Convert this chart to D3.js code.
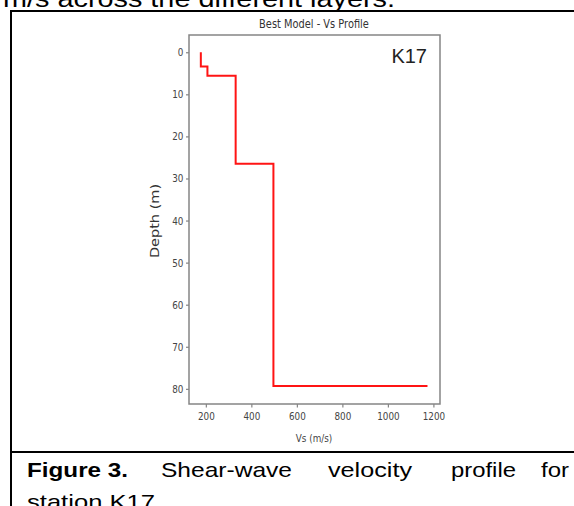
<!DOCTYPE html>
<html>
<head>
<meta charset="utf-8">
<script src="https://cdn.jsdelivr.net/npm/d3@7"></script>
<style>
  body { margin: 0; background: #fff; }
  svg { display: block; }
</style>
</head>
<body>
<div id="fig"></div>
<script>
// data: step profile (Vs in m/s, depth in m)
var vsValues = [178, 178, 207, 207, 331, 331, 497, 497, 1174];
var depthValues = [0, 3.4, 3.4, 5.6, 5.6, 26.5, 26.5, 79.3, 79.3];
var xTicks = [200, 400, 600, 800, 1000, 1200];
var yTicks = [0, 10, 20, 30, 40, 50, 60, 70, 80];

var W = 574, H = 506;
var svg = d3.select("#fig").append("svg")
    .attr("width", W)
    .attr("height", H);

// the chart image sits squeezed sideways inside the document
var squeeze = 0.8;

// page frame
svg.append("text")
    .attr("x", 3).attr("y", 7)
    .attr("textLength", 392)
    .attr("lengthAdjust", "spacingAndGlyphs")
    .style("font-family", "Liberation Sans, Arial")
    .style("font-size", "23px")
    .text("m/s across the different layers.");

svg.append("line").attr("x1", 10).attr("x2", W).attr("y1", 11).attr("y2", 11)
    .attr("stroke", "#000").attr("stroke-width", 2);
svg.append("line").attr("x1", 11).attr("x2", 11).attr("y1", 10).attr("y2", H)
    .attr("stroke", "#000").attr("stroke-width", 2);
svg.append("line").attr("x1", 10).attr("x2", W).attr("y1", 452).attr("y2", 452)
    .attr("stroke", "#000").attr("stroke-width", 2);

// caption, justified by hand
var capWords = [
  {t: "Figure 3.", x: 27, len: 101, bold: true},
  {t: "Shear-wave", x: 161, len: 131},
  {t: "velocity", x: 328, len: 84},
  {t: "profile", x: 451, len: 65},
  {t: "for", x: 541, len: 28}
];
var cap = svg.append("g")
    .style("font-family", "Liberation Sans, Arial")
    .style("font-size", "21px");
cap.selectAll("text.w").data(capWords).enter().append("text")
    .attr("class", "w")
    .attr("x", function(d) { return d.x; })
    .attr("y", 477)
    .attr("textLength", function(d) { return d.len; })
    .attr("lengthAdjust", "spacingAndGlyphs")
    .style("font-weight", function(d) { return d.bold ? "bold" : "normal"; })
    .text(function(d) { return d.t; });
cap.append("text").attr("x", 27).attr("y", 509)
    .attr("textLength", 128).attr("lengthAdjust", "spacingAndGlyphs")
    .text("station K17");

// chart
var margin = {top: 35, left: 189, right: 440, bottom: 404};

var x = d3.scaleLinear()
    .domain([126, 1229])
    .range([margin.left, margin.right]);
var y = d3.scaleLinear()
    .domain([-4.1, 83.6])
    .range([margin.top, margin.bottom]);

var axisColor = "#858585";
var tickText = "#444";

svg.append("rect")
    .attr("x", margin.left).attr("y", margin.top)
    .attr("width", margin.right - margin.left)
    .attr("height", margin.bottom - margin.top)
    .attr("fill", "none")
    .attr("stroke", axisColor)
    .attr("stroke-width", 1.5);

var gx = svg.append("g")
    .attr("transform", "translate(0," + margin.bottom + ")")
    .call(d3.axisBottom(x).tickValues(xTicks).tickFormat(d3.format("d")).tickSize(3.5).tickPadding(5));
var gy = svg.append("g")
    .attr("transform", "translate(" + margin.left + ",0)")
    .call(d3.axisLeft(y).tickValues(yTicks).tickFormat(d3.format("d")).tickSize(3).tickPadding(4));

[gx, gy].forEach(function(g) {
  g.select(".domain").remove();
  g.selectAll(".tick line").attr("stroke", axisColor).attr("stroke-width", 1.2);
  g.selectAll(".tick text")
    .attr("fill", tickText)
    .attr("transform", "scale(" + squeeze + ",1)")
    .style("font-family", "DejaVu Sans")
    .style("font-size", "11px");
});

var line = d3.line()
    .x(function(d, i) { return x(vsValues[i]); })
    .y(function(d, i) { return y(depthValues[i]); });

svg.append("path")
    .datum(vsValues)
    .attr("d", line)
    .attr("fill", "none")
    .attr("stroke", "#ff1414")
    .attr("stroke-width", 2);

// labels
svg.append("text")
    .attr("transform", "translate(314,28) scale(" + 0.82 + ",1)")
    .attr("text-anchor", "middle")
    .attr("fill", "#333")
    .style("font-family", "DejaVu Sans")
    .style("font-size", "12px")
    .text("Best Model - Vs Profile");

svg.append("text")
    .attr("transform", "translate(159,221) rotate(-90) scale(1," + squeeze + ")")
    .attr("text-anchor", "middle")
    .attr("fill", "#333")
    .style("font-family", "DejaVu Sans")
    .style("font-size", "14.5px")
    .text("Depth (m)");

svg.append("text")
    .attr("transform", "translate(314,442) scale(" + squeeze + ",1)")
    .attr("text-anchor", "middle")
    .attr("fill", "#444")
    .style("font-family", "DejaVu Sans")
    .style("font-size", "11px")
    .text("Vs (m/s)");

svg.append("text")
    .attr("x", 427).attr("y", 63)
    .attr("text-anchor", "end")
    .attr("fill", "#222")
    .style("font-family", "Liberation Sans, Arial")
    .style("font-size", "20px")
    .text("K17");
</script>
</body>
</html>
